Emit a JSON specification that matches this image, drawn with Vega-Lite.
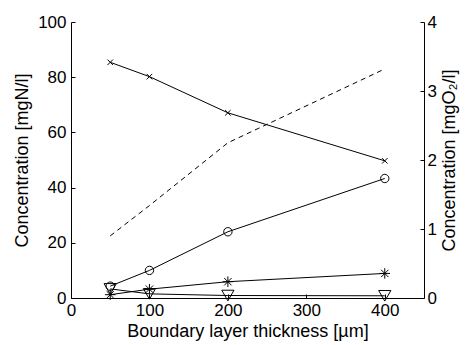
{
  "$schema": "https://vega.github.io/schema/vega-lite/v6.json",
  "width": 353,
  "height": 276,
  "autosize": "none",
  "padding": {"left": 71, "top": 22, "right": 42, "bottom": 47},
  "background": "white",
  "config": {
    "view": {"stroke": null},
    "font": "Liberation Sans",
    "axis": {
      "grid": false,
      "domainColor": "#000",
      "tickColor": "#000",
      "labelColor": "#000",
      "titleColor": "#000",
      "labelFont": "Liberation Sans",
      "titleFont": "Liberation Sans",
      "labelFontSize": 17,
      "titleFontSize": 18,
      "titleFontWeight": "normal",
      "tickSize": -4,
      "labelPadding": 9
    }
  },
  "datasets": {
    "n": [
      {"x": 50, "v": 85.4, "s": "a"},
      {"x": 100, "v": 80.2, "s": "a"},
      {"x": 200, "v": 67.1, "s": "a"},
      {"x": 400, "v": 49.7, "s": "a"},
      {"x": 50, "v": 4.3, "s": "b"},
      {"x": 100, "v": 10, "s": "b"},
      {"x": 200, "v": 24, "s": "b"},
      {"x": 400, "v": 43.3, "s": "b"},
      {"x": 50, "v": 1.2, "s": "c"},
      {"x": 100, "v": 3.2, "s": "c"},
      {"x": 200, "v": 5.9, "s": "c"},
      {"x": 400, "v": 8.9, "s": "c"},
      {"x": 50, "v": 3.3, "s": "d"},
      {"x": 100, "v": 1.5, "s": "d"},
      {"x": 200, "v": 0.9, "s": "d"},
      {"x": 400, "v": 0.8, "s": "d"}
    ],
    "o": [
      {"x": 50, "v": 0.9},
      {"x": 100, "v": 1.34},
      {"x": 200, "v": 2.25},
      {"x": 400, "v": 3.32}
    ]
  },
  "encoding": {
    "x": {
      "field": "x",
      "type": "quantitative",
      "scale": {"domain": [0, 450], "nice": false, "zero": false},
      "axis": {"values": [0, 100, 200, 300, 400], "title": "Boundary layer thickness [µm]", "titlePadding": 4, "labelPadding": 8, "labelFlush": false}
    }
  },
  "layer": [
    {
      "data": {"name": "n"},
      "encoding": {
        "y": {
          "field": "v",
          "type": "quantitative",
          "scale": {"domain": [0, 100], "nice": false},
          "axis": {"values": [0, 20, 40, 60, 80, 100], "title": "Concentration [mgN/l]", "titlePadding": 6, "orient": "left"}
        }
      },
      "layer": [
        {
          "mark": {"type": "line", "color": "#000", "strokeWidth": 1},
          "encoding": {"detail": {"field": "s"}}
        },
        {
          "mark": {"type": "point", "filled": false, "color": "#000", "strokeWidth": 1, "opacity": 1},
          "encoding": {
            "shape": {
              "field": "s",
              "type": "nominal",
              "legend": null,
              "scale": {
                "domain": ["a", "b", "c", "d"],
                "range": [
                  "M-1,-1L1,1M-1,1L1,-1",
                  "circle",
                  "M-1,0L1,0M0,-1L0,1M-0.7,-0.7L0.7,0.7M-0.7,0.7L0.7,-0.7",
                  "triangle-down"
                ]
              }
            },
            "size": {
              "field": "s",
              "type": "nominal",
              "legend": null,
              "scale": {"domain": ["a", "b", "c", "d"], "range": [30, 150, 70, 170]}
            }
          }
        }
      ]
    },
    {
      "data": {"name": "o"},
      "mark": {"type": "line", "color": "#000", "strokeWidth": 1, "strokeDash": [5, 4]},
      "encoding": {
        "y": {
          "field": "v",
          "type": "quantitative",
          "scale": {"domain": [0, 4], "nice": false},
          "axis": {"values": [0, 1, 2, 3, 4], "title": "Concentration [mgO₂/l]", "titlePadding": 4, "labelPadding": 7, "titleAngle": -90, "titleBaseline": "top", "orient": "right"}
        }
      }
    }
  ],
  "resolve": {"scale": {"y": "independent"}}
}
